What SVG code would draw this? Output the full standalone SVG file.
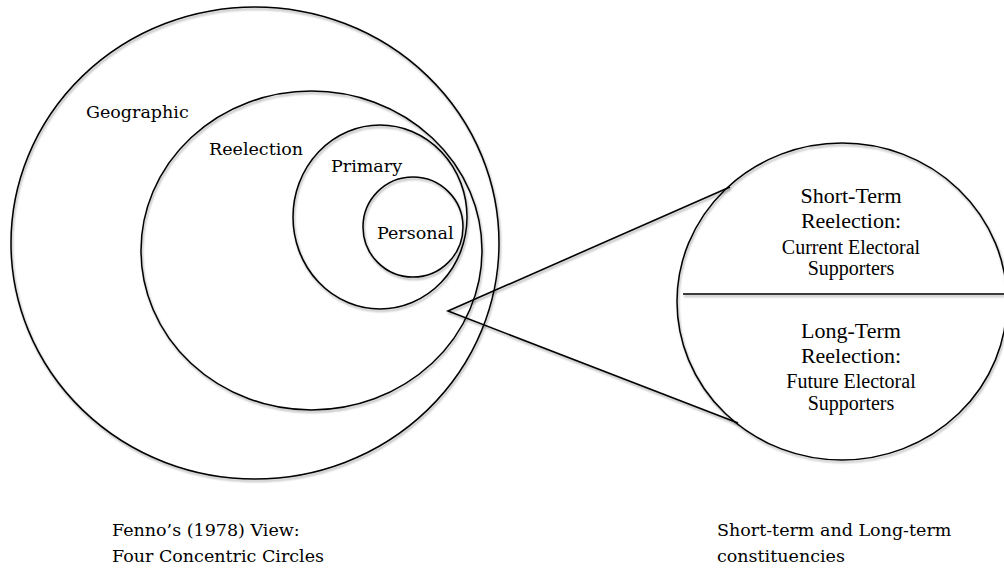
<svg xmlns="http://www.w3.org/2000/svg" width="1004" height="569" viewBox="0 0 1004 569">
  <defs>
    <filter id="sh" filterUnits="userSpaceOnUse" x="0" y="0" width="1004" height="569">
      <feDropShadow dx="1" dy="2" stdDeviation="1.2" flood-color="#000" flood-opacity="0.35"/>
    </filter>
  </defs>
  <style>
    .ring { fill: none; stroke: #000; stroke-width: 1.5; filter: url(#sh); }
    .ln { fill: none; stroke: #000; stroke-width: 1.6; filter: url(#sh); }
    .pal { font-family: "DejaVu Serif", "Liberation Serif", serif; font-size: 17.5px; fill: #000; }
    .tim { font-family: "Liberation Serif", serif; fill: #000; text-anchor: middle; }
    .big { font-size: 22px; }
    .sm { font-size: 20px; }
  </style>
  <rect width="1004" height="569" fill="#fff"/>

  <g id="geographic">
    <ellipse class="ring" cx="255" cy="243" rx="244" ry="236"/>
    <text class="pal" x="86" y="118">Geographic</text>
  </g>
  <g id="reelection">
    <ellipse class="ring" cx="311.5" cy="250.5" rx="170.5" ry="159.5"/>
    <text class="pal" x="209" y="155">Reelection</text>
  </g>
  <g id="primary">
    <ellipse class="ring" cx="380" cy="217" rx="87" ry="92"/>
    <text class="pal" x="331" y="172">Primary</text>
  </g>
  <g id="personal">
    <ellipse class="ring" cx="413" cy="227" rx="50" ry="50"/>
    <text class="pal" x="377" y="239">Personal</text>
  </g>

  <g id="constituencies">
    <ellipse class="ring" cx="842" cy="301.5" rx="165" ry="158.5"/>
    <line class="ln" x1="683" y1="294" x2="1004" y2="294"/>
    <text class="tim big" x="851" y="203">Short-Term</text>
    <text class="tim big" x="851" y="228">Reelection:</text>
    <text class="tim sm" x="851" y="254">Current Electoral</text>
    <text class="tim sm" x="851" y="275">Supporters</text>
    <text class="tim big" x="851" y="338">Long-Term</text>
    <text class="tim big" x="851" y="363">Reelection:</text>
    <text class="tim sm" x="851" y="388">Future Electoral</text>
    <text class="tim sm" x="851" y="410">Supporters</text>
  </g>

  <g id="connectors">
    <polyline class="ln" points="730,187 448,311 738,423"/>
  </g>

  <g id="captions">
    <text class="pal" x="112" y="536">Fenno’s (1978) View:</text>
    <text class="pal" x="112" y="562">Four Concentric Circles</text>
    <text class="pal" x="717" y="536">Short-term and Long-term</text>
    <text class="pal" x="717" y="562">constituencies</text>
  </g>
</svg>
